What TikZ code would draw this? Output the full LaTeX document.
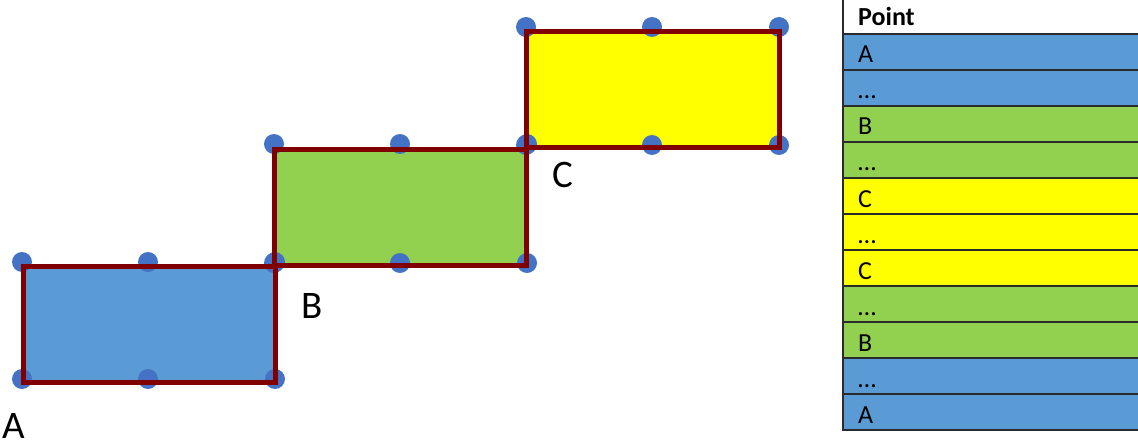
\documentclass[tikz,border=0pt]{standalone}
\usepackage{fontspec}
\setmainfont{Carlito}
\definecolor{cblue}{HTML}{5B9BD5}
\definecolor{cgreen}{HTML}{92D050}
\definecolor{cyellow}{HTML}{FFFF00}
\definecolor{cdot}{HTML}{4472C4}
\definecolor{cred}{HTML}{800000}
\definecolor{cline}{HTML}{2B2B2B}
\tikzset{
  dot/.style={circle,fill=cdot,inner sep=0pt,minimum size=20pt},
  outline/.style={draw=cred,line width=5pt,line join=miter},
  biglabel/.style={anchor=base west,inner sep=0pt,font=\fontsize{39}{39}\selectfont},
  cell/.style={draw=cline,line width=1.3pt},
  celltext/.style={anchor=base west,inner sep=0pt,font=\fontsize{26}{26}\selectfont}
}
\begin{document}
\begin{tikzpicture}[x=1pt,y=-1pt]
\useasboundingbox (0,0) rectangle (1138,441);
% fills
\fill[cblue] (23,266) rectangle (275,382);
\fill[cgreen] (274,149.5) rectangle (526,265.5);
\fill[cyellow] (526,31.5) rectangle (779,147.5);
% dots
\foreach \n/\x/\y in {a1/22/262,a2/148/262,a3/275/262,a4/22/379,a5/148/379,a6/275/379,
  b1/274/144,b2/400/144,b3/527/144,b4/274/263,b5/400/263,b6/527/263,
  c1/526/27,c2/652/27,c3/779/27,c4/526/145,c5/652/145,c6/779/145}
  \node[dot] (\n) at (\x,\y) {};
% outlines
\draw[outline] (23,266) rectangle (275,382);
\draw[outline] (274,149.5) rectangle (526,265.5);
\draw[outline] (526,31.5) rectangle (779,147.5);
% labels
\node[biglabel] (lA) at (2,438) {A};
\node[biglabel] (lB) at (301,318) {B};
\node[biglabel] (lC) at (552,187) {C};
% table
\fill[white] (843,-2) rectangle (1139,34);
\node[celltext,font=\fontsize{26}{26}\selectfont\bfseries] (th) at (858,26) {Point};
\foreach \i/\c/\t in {0/cblue/A,1/cblue/…,2/cgreen/B,3/cgreen/…,4/cyellow/C,5/cyellow/…,
  6/cyellow/C,7/cgreen/…,8/cgreen/B,9/cblue/…,10/cblue/A}{
  \pgfmathsetmacro{\yt}{34+36*\i}
  \fill[\c] (843,\yt) rectangle (1139,\yt+36);
  \node[celltext] (r\i) at (858,\yt+29) {\t};
}
\foreach \i in {0,...,11}{
  \pgfmathsetmacro{\yt}{34+36*\i}
  \draw[cell] (843,\yt) -- (1139,\yt);
}
\draw[cell] (843,-2) rectangle (1139,430);
\end{tikzpicture}
\end{document}
